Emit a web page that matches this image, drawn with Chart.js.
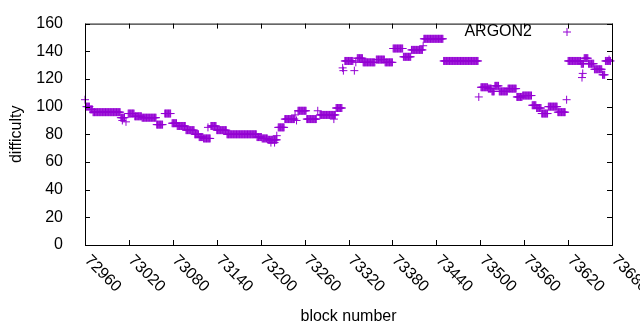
<!DOCTYPE html>
<html>
<head>
<meta charset="utf-8">
<script src="https://cdn.jsdelivr.net/npm/chart.js@4"></script>
<style>
  html, body { margin: 0; padding: 0; background: #fff; }
  #wrap { width: 640px; height: 330px; }
</style>
</head>
<body>
<div id="wrap"><canvas id="chart1"></canvas></div>
<script>
// runs of blocks with the same difficulty: first block, last block, value
const runStart = [72962, 72967, 72971, 73009, 73019, 73028, 73038, 73058, 73069, 73079,
                  73086, 73098, 73110, 73116, 73122, 73132, 73140, 73154, 73195, 73202,
                  73210, 73224, 73233, 73251, 73263, 73281, 73303, 73315, 73332, 73340,
                  73358, 73370, 73381, 73395, 73406, 73423, 73450, 73501, 73511, 73516,
                  73520, 73526, 73538, 73550, 73558, 73571, 73577, 73584, 73593, 73606,
                  73620, 73638, 73642, 73648, 73656, 73667, 73671];
const runEnd   = [72966, 72970, 73008, 73014, 73027, 73037, 73057, 73066, 73077, 73085,
                  73097, 73109, 73115, 73121, 73131, 73139, 73153, 73194, 73201, 73209,
                  73222, 73232, 73246, 73262, 73276, 73302, 73311, 73326, 73339, 73356,
                  73369, 73380, 73394, 73405, 73421, 73449, 73497, 73510, 73515, 73519,
                  73525, 73537, 73549, 73557, 73570, 73576, 73583, 73592, 73605, 73616,
                  73637, 73641, 73647, 73655, 73666, 73670, 73678];
const runValue = [100, 98, 96, 92, 95, 93, 92, 87, 95, 88,
                  86, 83, 80, 78, 77, 86, 83, 80, 78, 77,
                  76, 85, 91, 97, 91, 94, 99, 133, 135, 132,
                  134, 132, 142, 136, 141, 149, 133, 114, 113, 111,
                  115, 111, 113, 107, 108, 101, 99, 95, 100, 96,
                  133, 131, 135, 131, 127, 123, 133];

// single blocks off their run
const spikeBlock = [72960, 73011, 73016, 73128, 73214, 73219, 73222, 73247, 73249, 73278,
                    73300, 73312, 73313, 73328, 73330, 73422, 73498, 73618, 73639,
                    73640, 73676];
const spikeValue = [105, 90, 89, 85, 74, 74, 79, 94, 90, 97,
                    91, 128, 126, 126, 132, 144, 107, 105, 121,
                    124, 134];

const xTicks = [72960, 73020, 73080, 73140, 73200, 73260, 73320, 73380, 73440, 73500, 73560, 73620, 73680];
const yTicks = [0, 20, 40, 60, 80, 100, 120, 140, 160];

const seriesName = 'ARGON2';
const purple = '#9400d3';
const font = '"Liberation Sans", Arial, sans-serif';

const points = [];
for (let i = 0; i < runStart.length; i++) {
  for (let b = runStart[i]; b <= runEnd[i]; b++) points.push({ x: b, y: runValue[i] });
}
for (let i = 0; i < spikeBlock.length; i++) points.push({ x: spikeBlock[i], y: spikeValue[i] });

function cross(ctx, x, y, r) {
  ctx.beginPath();
  ctx.moveTo(x - r, y); ctx.lineTo(x + r, y);
  ctx.moveTo(x, y - r); ctx.lineTo(x, y + r);
  ctx.stroke();
}

const gnuFrame = {
  id: 'gnuFrame',
  afterDraw(chart) {
    const ctx = chart.ctx;
    const a = chart.chartArea;
    const xs = chart.scales.x, ys = chart.scales.y;
    ctx.save();
    ctx.strokeStyle = '#000';
    ctx.lineWidth = 1;
    ctx.strokeRect(a.left + 0.5, a.top + 0.5, a.right - a.left, a.bottom - a.top);
    ctx.beginPath();
    xTicks.forEach(v => {
      const p = Math.round(xs.getPixelForValue(v)) + 0.5;
      ctx.moveTo(p, a.bottom); ctx.lineTo(p, a.bottom - 5);
      ctx.moveTo(p, a.top); ctx.lineTo(p, a.top + 5);
    });
    yTicks.forEach(v => {
      const p = Math.round(ys.getPixelForValue(v)) + 0.5;
      ctx.moveTo(a.left, p); ctx.lineTo(a.left + 5, p);
      ctx.moveTo(a.right, p); ctx.lineTo(a.right - 5, p);
    });
    ctx.stroke();

    // rotated x tick labels, reading downwards from the tick
    ctx.fillStyle = '#000';
    ctx.font = '16px ' + font;
    ctx.textAlign = 'left';
    ctx.textBaseline = 'middle';
    xTicks.forEach(v => {
      ctx.save();
      ctx.translate(xs.getPixelForValue(v) + 2, a.bottom + 13);
      ctx.rotate(Math.PI / 4);
      ctx.fillText(String(v), 0, 0);
      ctx.restore();
    });

    // key
    ctx.textAlign = 'right';
    ctx.fillText(seriesName, 532, 32);
    ctx.strokeStyle = purple;
    cross(ctx, 567, 32, 4);
    ctx.restore();
  }
};

new Chart(document.getElementById('chart1'), {
  type: 'scatter',
  data: {
    datasets: [{
      label: seriesName,
      data: points,
      pointStyle: 'cross',
      pointRadius: 4,
      pointBorderWidth: 1,
      borderColor: purple,
      backgroundColor: purple,
      clip: false
    }]
  },
  options: {
    responsive: true,
    maintainAspectRatio: false,
    animation: false,
    events: [],
    layout: { padding: { top: 18, right: 28, left: 0, bottom: 0 } },
    plugins: { legend: { display: false }, tooltip: { enabled: false } },
    scales: {
      x: {
        type: 'linear',
        min: 72960,
        max: 73680,
        afterBuildTicks: s => { s.ticks = xTicks.map(v => ({ value: v })); },
        afterFit: s => { s.height = 85; },
        grid: { display: false },
        border: { display: false },
        ticks: { display: false },
        title: {
          display: true,
          text: 'block number',
          color: '#000',
          font: { family: font, size: 16 },
          padding: { top: 4, bottom: 4 }
        }
      },
      y: {
        min: 0,
        max: 160,
        afterBuildTicks: s => { s.ticks = yTicks.map(v => ({ value: v })); },
        afterFit: s => { s.width = 85; },
        grid: { display: false },
        border: { display: false },
        ticks: { color: '#000', padding: 14, font: { family: font, size: 16 } },
        title: {
          display: true,
          text: 'difficulty',
          color: '#000',
          font: { family: font, size: 16 },
          padding: { top: 7, bottom: 4 }
        }
      }
    }
  },
  plugins: [gnuFrame]
});
</script>
</body>
</html>
